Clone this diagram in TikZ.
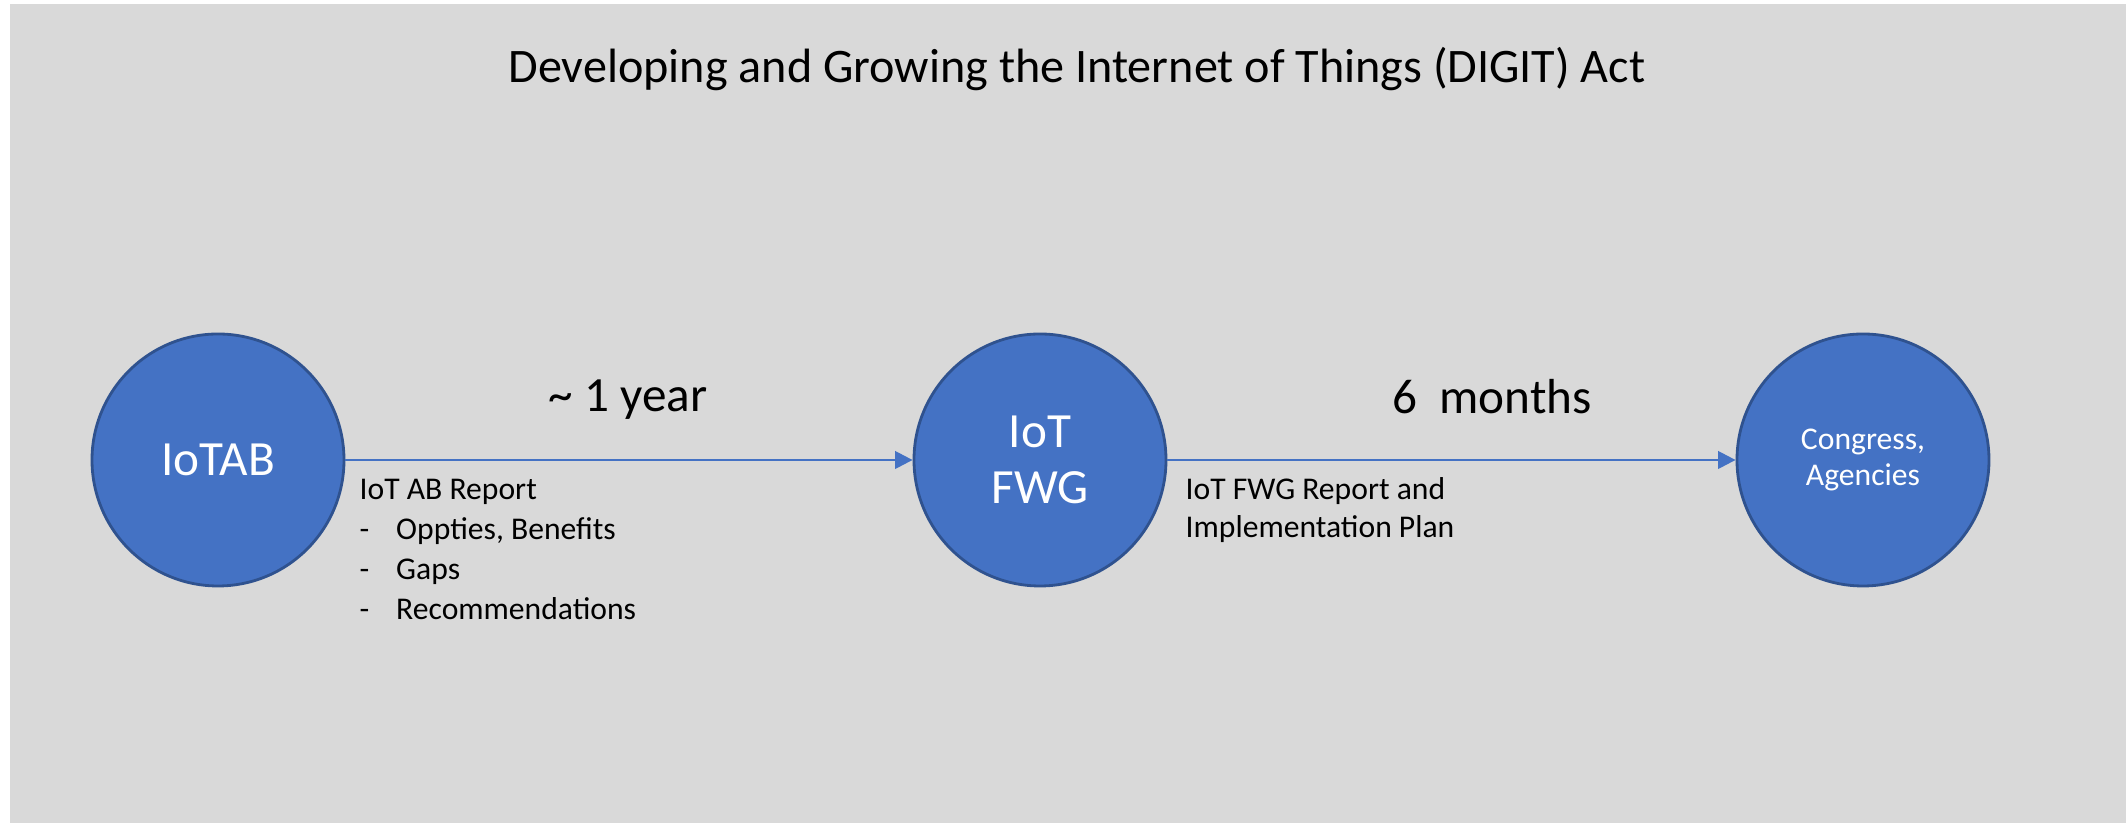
\documentclass[tikz,border=0pt]{standalone}
\usepackage{fontspec}
\setmainfont{Carlito}
\usetikzlibrary{arrows.meta, positioning}
\definecolor{officeBlue}{HTML}{4472C4}
\definecolor{officeEdge}{HTML}{2F528F}
\definecolor{slideGray}{HTML}{D9D9D9}

\begin{document}
\begin{tikzpicture}[
    stageCircle/.style={circle, draw=officeEdge, line width=0.8pt, fill=officeBlue, text=white, minimum size=2.52cm, inner sep=0pt, align=center},
    flowArrow/.style={draw=officeBlue, line width=0.7pt, -{Triangle[length=5pt, width=5pt]}},
    noteText/.style={anchor=north west, align=left, inner sep=0pt, font=\fontsize{9}{10.9}\selectfont}
]
\useasboundingbox (0,0) rectangle (21.26,8.23);
\fill[slideGray] (0.10,0) rectangle (21.26,8.19);

\node[anchor=base, font=\fontsize{13.7}{16}\selectfont] (titleText) at (10.77,7.40) {Developing and Growing the Internet of Things (DIGIT) Act};

\node[stageCircle, font=\fontsize{14}{16}\selectfont] (ioTab) at (2.18,3.63) {IoTAB};
\node[stageCircle, font=\fontsize{14}{16}\selectfont] (iotFwg) at (10.40,3.63) {IoT\\FWG};
\node[stageCircle, font=\fontsize{9}{10.4}\selectfont] (congressAgencies) at (18.63,3.63) {Congress,\\Agencies};

\draw[flowArrow] (ioTab) -- (iotFwg);
\draw[flowArrow] (iotFwg) -- (congressAgencies);

\node[font=\fontsize{14}{16}\selectfont] (yearLabel) at (6.28,4.23) {\textasciitilde\ 1 year};
\node[font=\fontsize{14}{16}\selectfont] (monthLabel) at (14.92,4.26) {6~ months};

\node[noteText, font=\fontsize{9}{11.3}\selectfont] (abReport) at (3.59,3.44) {IoT AB Report\\
\makebox[10.4pt][l]{-}Oppties, Benefits\\
\makebox[10.4pt][l]{-}Gaps\\
\makebox[10.4pt][l]{-}Recommendations};
\node[noteText] (fwgReport) at (11.85,3.46) {IoT FWG Report and\\Implementation Plan};

\end{tikzpicture}
\end{document}
